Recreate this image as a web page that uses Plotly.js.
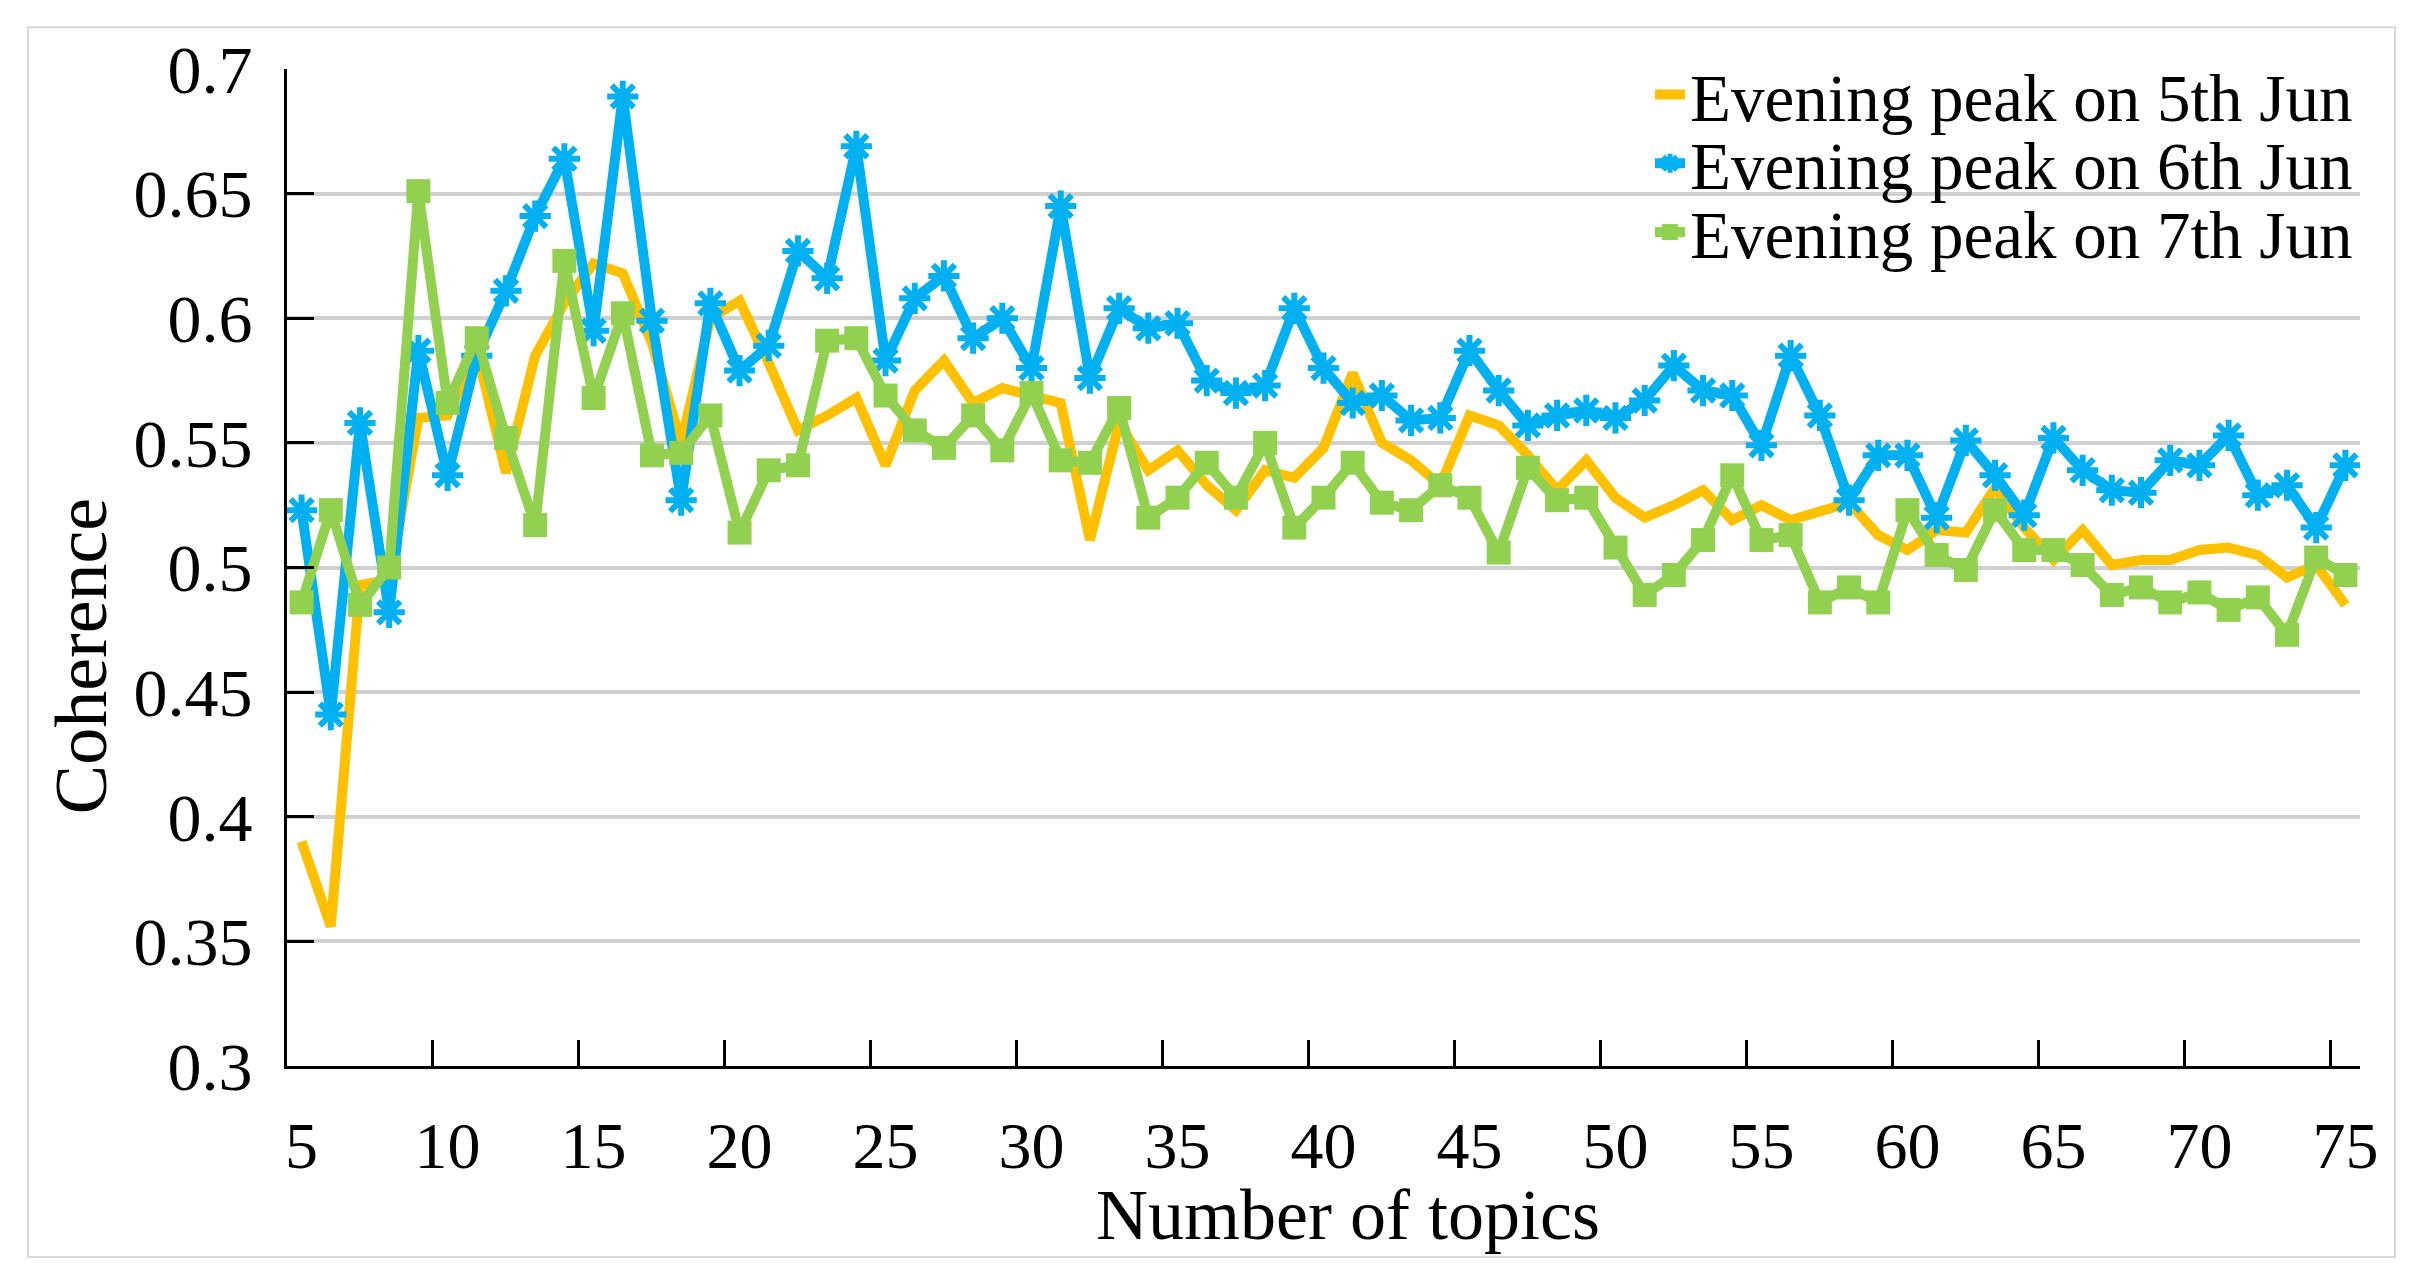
<!DOCTYPE html>
<html>
<head>
<meta charset="utf-8">
<script src="https://cdn.plot.ly/plotly-3.0.1.min.js"></script>
<style>
  html, body { margin: 0; padding: 0; background: #ffffff; }
  #chart { width: 2420px; height: 1288px; }
</style>
</head>
<body>
<div id="chart"></div>
<script>
// ---- data ----
var topics = [5, 6, 7, 8, 9, 10, 11, 12, 13, 14, 15, 16, 17, 18, 19, 20, 21, 22, 23, 24, 25,
  26, 27, 28, 29, 30, 31, 32, 33, 34, 35, 36, 37, 38, 39, 40, 41, 42, 43, 44, 45,
  46, 47, 48, 49, 50, 51, 52, 53, 54, 55, 56, 57, 58, 59, 60, 61, 62, 63, 64, 65,
  66, 67, 68, 69, 70, 71, 72, 73, 74, 75];

var jun5 = [0.390, 0.356, 0.493, 0.495, 0.560, 0.561, 0.587, 0.538, 0.585, 0.606, 0.622,
  0.618, 0.590, 0.550, 0.600, 0.607, 0.582, 0.555, 0.561, 0.568, 0.541,
  0.571, 0.583, 0.566, 0.572, 0.569, 0.566, 0.511, 0.558, 0.539, 0.547,
  0.533, 0.523, 0.539, 0.536, 0.548, 0.578, 0.550, 0.543, 0.533, 0.561,
  0.557, 0.545, 0.531, 0.543, 0.528, 0.520, 0.525, 0.531, 0.519, 0.525,
  0.519, 0.523, 0.526, 0.513, 0.507, 0.515, 0.514, 0.532, 0.516, 0.503,
  0.515, 0.501, 0.503, 0.503, 0.507, 0.508, 0.505, 0.496, 0.501, 0.485];

var jun6 = [0.523, 0.441, 0.558, 0.482, 0.587, 0.537, 0.585, 0.611, 0.641, 0.664, 0.595,
  0.689, 0.599, 0.527, 0.606, 0.579, 0.589, 0.627, 0.616, 0.669, 0.583,
  0.608, 0.617, 0.592, 0.600, 0.580, 0.645, 0.576, 0.604, 0.596, 0.598,
  0.575, 0.570, 0.573, 0.604, 0.580, 0.566, 0.569, 0.559, 0.560, 0.587,
  0.571, 0.557, 0.561, 0.563, 0.560, 0.567, 0.581, 0.571, 0.569, 0.549,
  0.585, 0.561, 0.527, 0.545, 0.545, 0.520, 0.551, 0.537, 0.521, 0.552,
  0.539, 0.531, 0.530, 0.543, 0.541, 0.553, 0.529, 0.533, 0.516, 0.541];

var jun7 = [0.486, 0.523, 0.485, 0.500, 0.651, 0.566, 0.592, 0.552, 0.517, 0.623, 0.568,
  0.602, 0.545, 0.546, 0.561, 0.514, 0.539, 0.541, 0.591, 0.592, 0.569,
  0.555, 0.548, 0.561, 0.547, 0.570, 0.543, 0.542, 0.564, 0.520, 0.528,
  0.542, 0.528, 0.550, 0.516, 0.528, 0.542, 0.526, 0.523, 0.533, 0.528,
  0.506, 0.540, 0.527, 0.528, 0.508, 0.489, 0.497, 0.511, 0.537, 0.511,
  0.513, 0.486, 0.492, 0.486, 0.523, 0.505, 0.499, 0.523, 0.507, 0.507,
  0.501, 0.489, 0.492, 0.486, 0.490, 0.483, 0.488, 0.473, 0.504, 0.497];

var seriesNames = ['Evening peak on 5th Jun', 'Evening peak on 6th Jun', 'Evening peak on 7th Jun'];
var yTickVals = [0.3, 0.35, 0.4, 0.45, 0.5, 0.55, 0.6, 0.65, 0.7];
var yTickText = ['0.3', '0.35', '0.4', '0.45', '0.5', '0.55', '0.6', '0.65', '0.7'];
var xTitle = 'Number of topics';
var yTitle = 'Coherence';

// ---- styling ----
var FONT = 'Liberation Serif, Times New Roman, serif';
var ORANGE = '#FFC000', BLUE = '#00B0F0', GREEN = '#92D050';

var traces = [
  {
    x: topics, y: jun5, name: seriesNames[0], type: 'scatter', mode: 'lines',
    line: { color: ORANGE, width: 10 }, legend: 'legend'
  },
  {
    x: topics, y: jun6, name: seriesNames[1], type: 'scatter', mode: 'lines+markers',
    line: { color: BLUE, width: 10 },
    marker: { symbol: 'asterisk-open', size: 26, color: BLUE, line: { color: BLUE, width: 6 } },
    legend: 'legend2'
  },
  {
    x: topics, y: jun7, name: seriesNames[2], type: 'scatter', mode: 'lines+markers',
    line: { color: GREEN, width: 10 },
    marker: { symbol: 'square', size: 24, color: GREEN },
    legend: 'legend3'
  }
];

function legendAt(yPaper) {
  return {
    x: 0.6575, y: yPaper, xanchor: 'left', yanchor: 'middle',
    bgcolor: 'rgba(0,0,0,0)', borderwidth: 0,
    font: { family: FONT, size: 67, color: '#000000' },
    itemwidth: 30
  };
}

var layout = {
  width: 2420, height: 1288,
  paper_bgcolor: '#ffffff', plot_bgcolor: '#ffffff',
  margin: { l: 287, r: 60, t: 69, b: 222 },
  showlegend: true,
  font: { family: FONT, color: '#000000' },
  xaxis: {
    type: 'category',
    range: [-0.5, 70.5],
    tickmode: 'linear', tick0: 0, dtick: 5,
    tickson: 'boundaries',
    tickangle: 0,
    ticks: 'inside', ticklen: 26, tickwidth: 3, tickcolor: '#000000',
    showline: true, linecolor: '#000000', linewidth: 3,
    showgrid: false, zeroline: false,
    tickfont: { family: FONT, size: 66, color: '#000000' },
    ticklabelstandoff: 20,
    fixedrange: true
  },
  yaxis: {
    range: [0.3, 0.7],
    tickmode: 'array', tickvals: yTickVals, ticktext: yTickText,
    ticks: 'inside', ticklen: 27, tickwidth: 3, tickcolor: '#000000',
    showline: true, linecolor: '#000000', linewidth: 3,
    showgrid: true, gridcolor: '#d0d0d0', gridwidth: 4,
    zeroline: false,
    tickfont: { family: FONT, size: 68, color: '#000000' },
    ticklabelstandoff: 18,
    fixedrange: true
  },
  legend: legendAt(0.974),
  legend2: legendAt(0.905),
  legend3: legendAt(0.836),
  annotations: [
    {
      text: xTitle, xref: 'paper', yref: 'paper',
      x: 0.512, y: -0.149, xanchor: 'center', yanchor: 'middle',
      showarrow: false, font: { family: FONT, size: 72, color: '#000000' }
    },
    {
      text: yTitle, xref: 'paper', yref: 'paper', textangle: -90,
      x: -0.0994, y: 0.411, xanchor: 'center', yanchor: 'middle',
      showarrow: false, font: { family: FONT, size: 74, color: '#000000' }
    }
  ],
  shapes: [
    {
      type: 'rect', xref: 'paper', yref: 'paper',
      x0: -0.1249, x1: 1.0169, y0: -0.1916, y1: 1.042,
      line: { color: '#d9d9d9', width: 2 }, fillcolor: 'rgba(0,0,0,0)', layer: 'below'
    }
  ]
};

Plotly.newPlot('chart', traces, layout, { displayModeBar: false, staticPlot: true });
</script>
</body>
</html>
